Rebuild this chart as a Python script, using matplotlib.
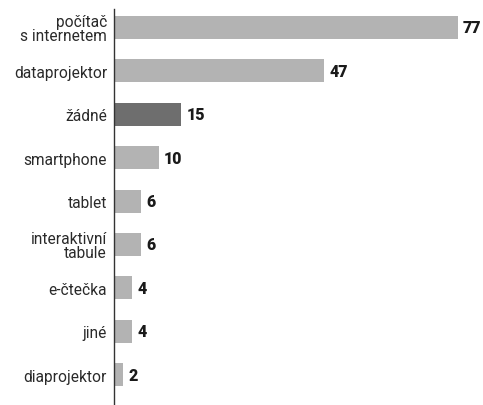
import matplotlib
matplotlib.use("Agg")
import matplotlib.pyplot as plt

categories = ["počítač\ns internetem", "dataprojektor", "žádné", "smartphone", "tablet",
              "interaktivní\ntabule", "e-čtečka", "jiné", "diaprojektor"]
values = [77, 47, 15, 10, 6, 6, 4, 4, 2]
highlight = "žádné"

plt.rcParams['font.family'] = ['Roboto', 'DejaVu Sans']

fig = plt.figure(figsize=(4.83, 4.06), dpi=100)
ax = fig.add_axes([114/483, 0, 1 - 114/483, 1 - 10/406])

colors = ["#6e6e6e" if c == highlight else "#b3b3b3" for c in categories]
y = list(range(len(categories)))
ax.barh(y, values, height=0.53, color=colors, zorder=2)
for yi, v in zip(y, values):
    ax.text(v + 1.2, yi, str(v), va="center", ha="left", fontsize=11.5,
            fontweight="black", color="#1a1a1a")

ax.set_xlim(0, (483 - 114) / 4.464)
ax.set_ylim(8.70, -0.426)
ax.set_yticks(y)
ax.set_yticklabels(categories, fontsize=11.2, color="#2a2a2a", linespacing=0.92,
                   multialignment="right")
ax.tick_params(axis="y", length=0, pad=5)
ax.set_xticks([])
for s in ["top", "right", "bottom"]:
    ax.spines[s].set_visible(False)
ax.spines["left"].set_color("#333333")
ax.spines["left"].set_linewidth(1.0)

fig.savefig("out.png", dpi=100)
